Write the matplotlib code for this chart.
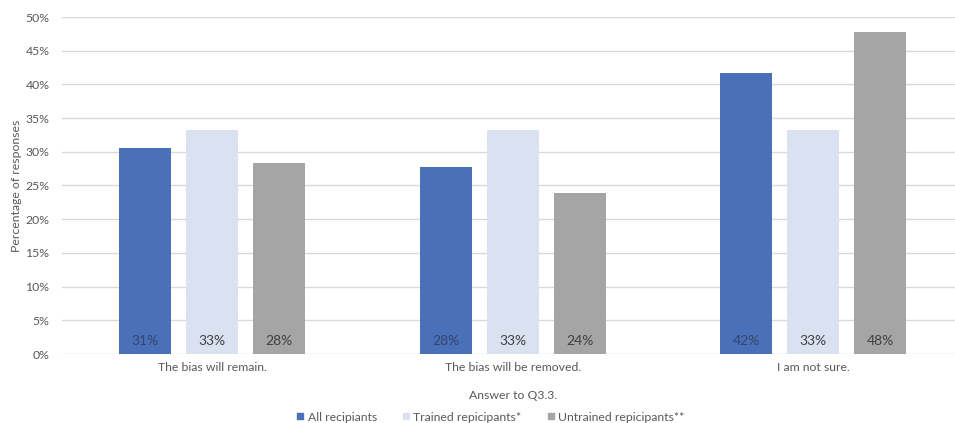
import matplotlib
matplotlib.use("Agg")
import matplotlib.pyplot as plt
from matplotlib.ticker import FuncFormatter, MultipleLocator
from matplotlib.lines import Line2D
import numpy as np

categories = ["The bias will remain.", "The bias will be removed.", "I am not sure."]
series_names = ["All recipiants", "Trained repicipants*", "Untrained repicipants**"]
all_recipients = [30.6, 27.8, 41.7]
trained = [33.3, 33.3, 33.3]
untrained = [28.3, 23.9, 47.8]

colors = ["#4A70B9", "#DAE2F2", "#A5A5A5"]
label_colors = ["#34466b", "#404040", "#404040"]

plt.rcParams["font.family"] = ["Lato", "DejaVu Sans"]

W, H = 955, 423
fig = plt.figure(figsize=(W / 100, H / 100), dpi=100)
left, right, top, bottom = 62, 955, 17, 354
ax = fig.add_axes([left / W, 1 - bottom / H, (right - left) / W, (bottom - top) / H])

x = np.arange(len(categories))
width = 0.173
step = 0.223
for i, (vals, c, lc) in enumerate(zip([all_recipients, trained, untrained], colors, label_colors)):
    pos = x + (i - 1) * step
    ax.bar(pos, vals, width=width, color=c, zorder=3)
    for p, v in zip(pos, vals):
        ax.text(p, 1.0, f"{v:.0f}%", ha="center", va="bottom", fontsize=10,
                color=lc, zorder=4)

ax.set_ylim(0, 50)
ax.set_xlim(-0.5, (right - left) / 300.5 - 0.5)
ax.yaxis.set_major_locator(MultipleLocator(5))
ax.yaxis.set_major_formatter(FuncFormatter(lambda v, _: f"{v:.0f}%"))
ax.grid(axis="y", color="#D9D9D9", linewidth=1, zorder=0)
ax.set_axisbelow(True)
for s in ax.spines.values():
    s.set_visible(False)
ax.tick_params(axis="both", length=0, labelsize=8.8, colors="#595959")
ax.tick_params(axis="y", pad=9)
ax.tick_params(axis="x", pad=6)
ax.set_xticks(x)
ax.set_xticklabels(categories)

fig.text(16 / W, 1 - 186 / H, "Percentage of responses", rotation=90, ha="center",
         va="center", fontsize=8.8, color="#595959")
fig.text(513 / W, 1 - 395 / H, "Answer to Q3.3.", ha="center", va="center",
         fontsize=8.8, color="#595959")

handles = [Line2D([], [], marker="s", linestyle="none", markersize=5,
                  markerfacecolor=c, markeredgecolor=c) for c in colors]
fig.legend(handles, series_names, loc="center", bbox_to_anchor=(490 / W, 1 - 417 / H),
           ncol=3, frameon=False, fontsize=8.8, labelcolor="#595959",
           handletextpad=0.2, columnspacing=2.0, handlelength=0.8)

fig.savefig("out.png", dpi=100)
